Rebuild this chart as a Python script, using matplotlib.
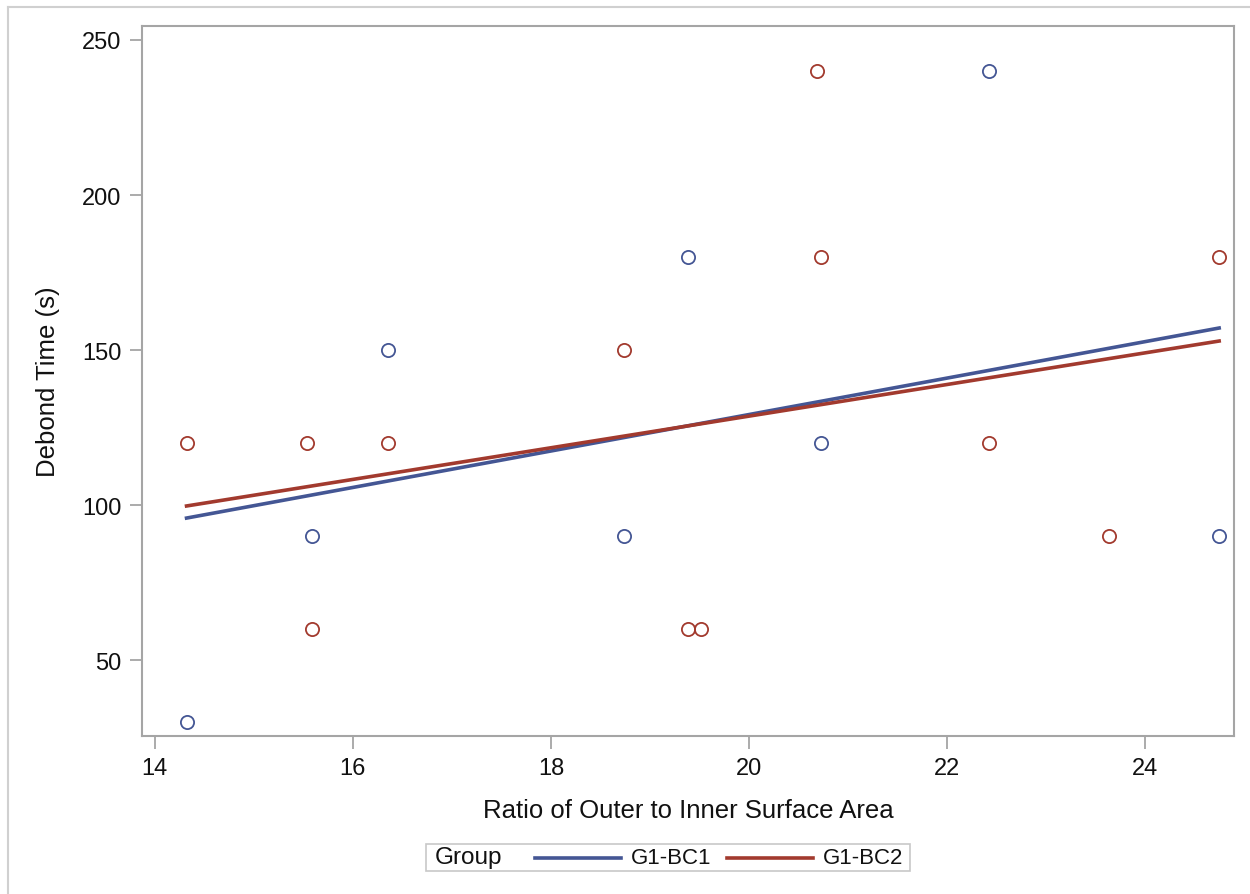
import matplotlib
matplotlib.use("Agg")
import matplotlib.pyplot as plt
from matplotlib.lines import Line2D
from matplotlib.patches import Rectangle

# ── Data ─────────────────────────────────────────────────────
bc1_ratio = [14.32, 15.59, 16.35, 18.74, 19.39, 20.73, 22.43, 24.75]
bc1_time = [30, 90, 150, 90, 180, 120, 240, 90]

bc2_ratio = [14.32, 15.54, 15.59, 16.35, 18.74, 19.39, 19.52, 20.69, 20.73,
             22.43, 23.64, 24.75]
bc2_time = [120, 120, 60, 120, 150, 60, 60, 240, 180, 120, 90, 180]

# fitted regression lines (end points)
fit_x = [14.32, 24.75]
bc1_fit = [95.8, 157.1]
bc2_fit = [99.7, 152.9]

group_names = ["G1-BC1", "G1-BC2"]
x_ticks = [14, 16, 18, 20, 22, 24]
y_ticks = [50, 100, 150, 200, 250]

# ── Style ────────────────────────────────────────────────────
COLORS = {"G1-BC1": "#445694", "G1-BC2": "#A23A2E"}
GRAY = "#A5A5A5"
TEXT = "#111111"
plt.rcParams.update({
    "font.family": ["Liberation Sans", "DejaVu Sans"],
    "font.size": 17,
})

fig = plt.figure(figsize=(12.5, 8.95), dpi=100, facecolor="white")
ax = fig.add_axes([0.1136, 0.1765, 0.8736, 0.7933])

for name, xs, ys in [("G1-BC1", bc1_ratio, bc1_time), ("G1-BC2", bc2_ratio, bc2_time)]:
    ax.plot(xs, ys, linestyle="none", marker="o", markersize=9.5,
            markerfacecolor="none", markeredgecolor=COLORS[name],
            markeredgewidth=1.3, zorder=3)

ax.plot(fit_x, bc1_fit, color=COLORS["G1-BC1"], linewidth=2.6, zorder=2)
ax.plot(fit_x, bc2_fit, color=COLORS["G1-BC2"], linewidth=2.6, zorder=2)

ax.set_xlim(13.87, 24.90)
ax.set_ylim(25.5, 254.5)
ax.set_xticks(x_ticks)
ax.set_yticks(y_ticks)
ax.tick_params(direction="out", length=9, width=1.3, color=GRAY,
               labelsize=17, pad=6, labelcolor=TEXT)
for sp in ax.spines.values():
    sp.set_color(GRAY)
    sp.set_linewidth(1.5)

ax.set_xlabel("Ratio of Outer to Inner Surface Area", fontsize=18.5,
              labelpad=14, color=TEXT)
ax.set_ylabel("Debond Time (s)", fontsize=18.5, labelpad=16, color=TEXT)

# ── Legend (drawn in figure pixels) ──────────────────────────
W, H = 1250, 895


def fx(px):
    return px / W


def fy(py):
    return 1 - py / H


fig.patches.append(Rectangle((fx(426), fy(872)), fx(910) - fx(426), fy(845) - fy(872),
                             transform=fig.transFigure, facecolor="white",
                             edgecolor="#C8C8C8", linewidth=1.2))
ly = fy(858.5)
fig.text(fx(435), ly, "Group", fontsize=17.5, va="center", ha="left", color=TEXT)
for (x0, x1, tx), name in zip([(535, 621, 631), (727, 813, 823)], group_names):
    fig.lines.append(Line2D([fx(x0), fx(x1)], [ly, ly], transform=fig.transFigure,
                            color=COLORS[name], linewidth=2.6))
    fig.text(fx(tx), ly, name, fontsize=16, va="center", ha="left", color=TEXT)

# outer frame (left and top edges visible in the reference)
fig.lines.append(Line2D([fx(7.5), fx(7.5)], [fy(7.5), fy(895)], transform=fig.transFigure,
                        color="#D0D0D0", linewidth=1.5))
fig.lines.append(Line2D([fx(7.5), fx(1250)], [fy(7.5), fy(7.5)], transform=fig.transFigure,
                        color="#D0D0D0", linewidth=1.5))

fig.savefig("out.png", dpi=100, facecolor="white")
